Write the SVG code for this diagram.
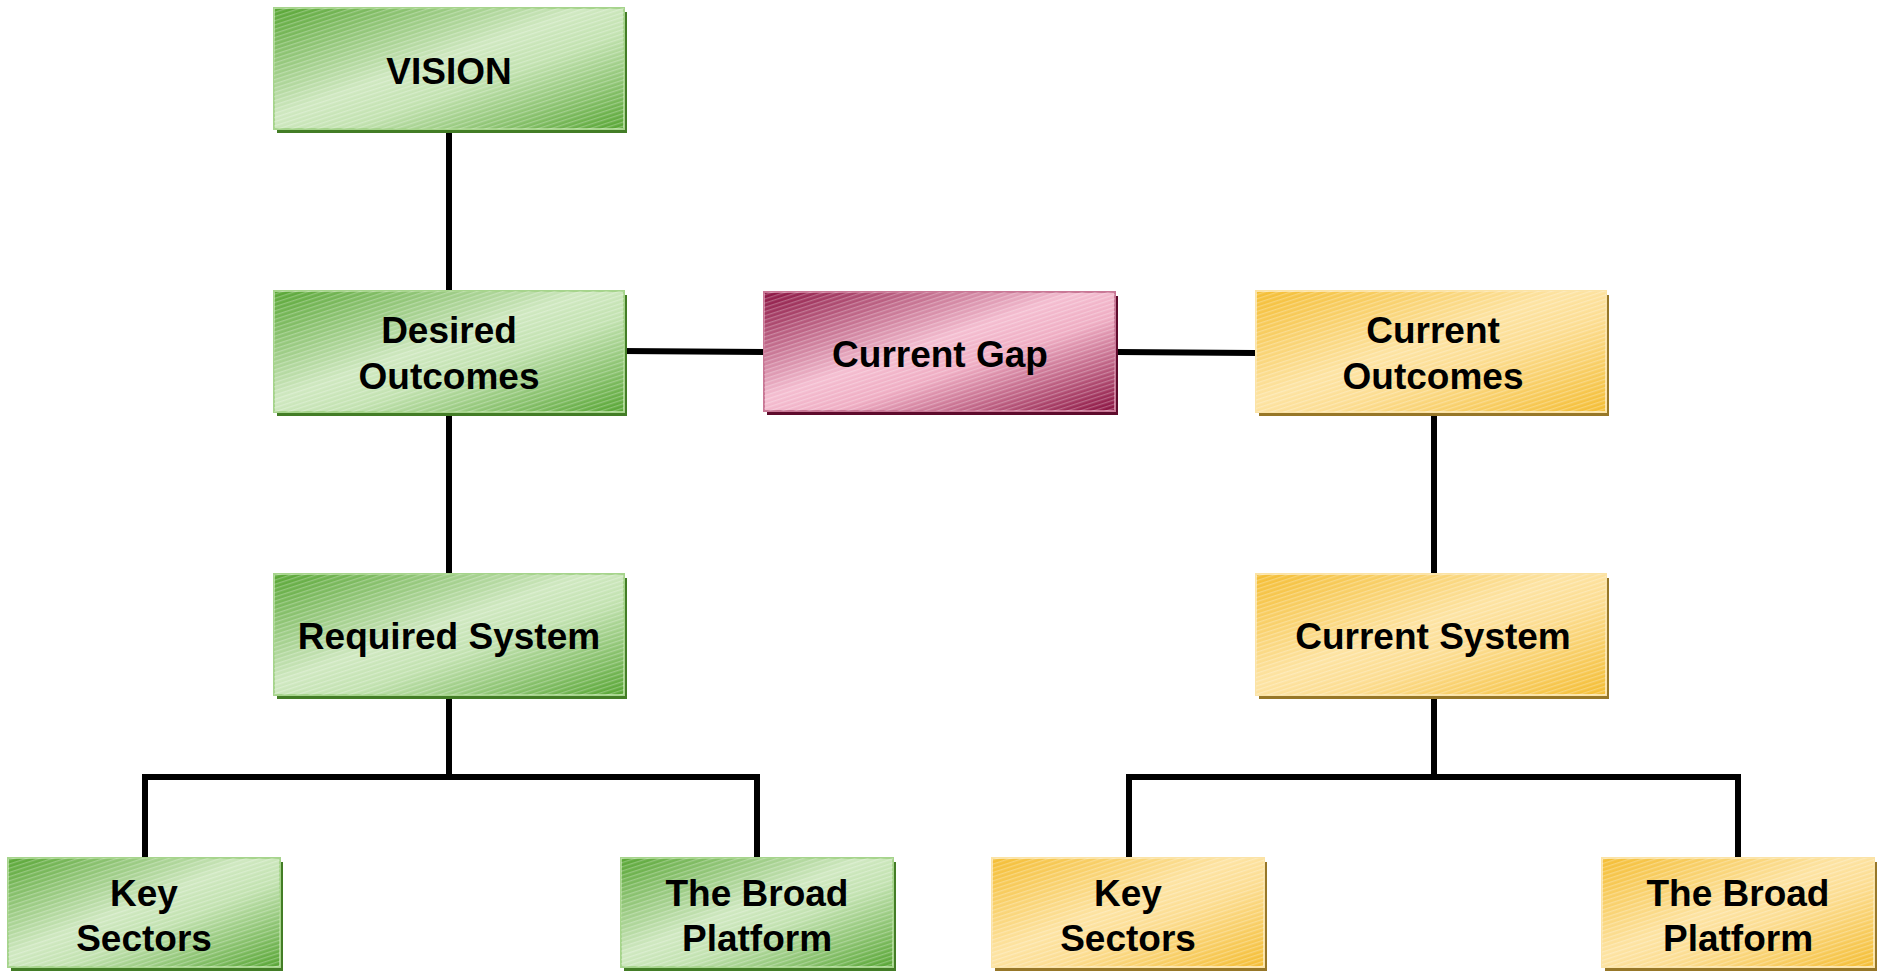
<svg xmlns="http://www.w3.org/2000/svg" width="1883" height="972" viewBox="0 0 1883 972">
  <defs>
    <!-- diagonal fills: dark corners, light centre -->
    <linearGradient id="gGreen" x1="0" y1="0" x2="1" y2="1">
      <stop offset="0" stop-color="#56a532"/>
      <stop offset="0.45" stop-color="#cfe8c0"/>
      <stop offset="0.6" stop-color="#c2e2b0"/>
      <stop offset="1" stop-color="#56a532"/>
    </linearGradient>
    <linearGradient id="gPink" x1="0" y1="0" x2="1" y2="1">
      <stop offset="0" stop-color="#8a1140"/>
      <stop offset="0.45" stop-color="#f4bdd0"/>
      <stop offset="0.6" stop-color="#efadc3"/>
      <stop offset="1" stop-color="#8a1140"/>
    </linearGradient>
    <linearGradient id="gGold" x1="0" y1="0" x2="1" y2="1">
      <stop offset="0" stop-color="#f4bd32"/>
      <stop offset="0.45" stop-color="#fde3a2"/>
      <stop offset="0.6" stop-color="#fcdd92"/>
      <stop offset="1" stop-color="#f4bd32"/>
    </linearGradient>
    <!-- fine hatching laid over every box -->
    <pattern id="hatch" width="8" height="4" patternUnits="userSpaceOnUse" patternTransform="rotate(-18)">
      <rect x="0" y="0" width="8" height="1.3" fill="#ffffff" opacity="0.28"/>
    </pattern>
  </defs>
  <style>
    .box text { font-family: "Liberation Sans", Arial, sans-serif; font-weight: bold; font-size: 37px; fill: #000; text-anchor: middle; }
    .green .shadow { fill: #437d26; }
    .green .face { fill: url(#gGreen); stroke: #a6d48c; stroke-width: 2; }
    .pink .shadow { fill: #5e0b2c; }
    .pink .face { fill: url(#gPink); stroke: #c97896; stroke-width: 2; }
    .gold .shadow { fill: #977728; }
    .gold .face { fill: url(#gGold); stroke: #fbe3a6; stroke-width: 2; }
    .hatch { fill: url(#hatch); }
    .connectors path { fill: none; stroke: #000; stroke-width: 6; stroke-linejoin: miter; stroke-linecap: butt; }
  </style>

  <rect width="1883" height="972" fill="#ffffff"/>

  <!-- connectors -->
  <g class="connectors" id="connectors">
    <path d="M449 130 V291"/>
    <path d="M449 414 V574"/>
    <path d="M449 697 V777"/>
    <path d="M145 859 V777 H757 V859"/>
    <path d="M622 351 L764 352"/>
    <path d="M1118 352 L1255 353"/>
    <path d="M1434 414 V574"/>
    <path d="M1434 697 V777"/>
    <path d="M1129 859 V777 H1738 V859"/>
  </g>

  <!-- left column -->
  <g id="vision" class="box green">
    <rect class="shadow" x="277" y="12" width="350" height="121"/>
    <rect class="face" x="274" y="8" width="350" height="121"/>
    <rect class="hatch" x="274" y="8" width="350" height="121"/>
    <text x="449" y="84">VISION</text>
  </g>
  <g id="desired-outcomes" class="box green">
    <rect class="shadow" x="277" y="295" width="350" height="121"/>
    <rect class="face" x="274" y="291" width="350" height="121"/>
    <rect class="hatch" x="274" y="291" width="350" height="121"/>
    <text x="449" y="343">Desired</text>
    <text x="449" y="389">Outcomes</text>
  </g>
  <g id="required-system" class="box green">
    <rect class="shadow" x="277" y="578" width="350" height="121"/>
    <rect class="face" x="274" y="574" width="350" height="121"/>
    <rect class="hatch" x="274" y="574" width="350" height="121"/>
    <text x="449" y="649">Required System</text>
  </g>
  <g id="key-sectors-required" class="box green">
    <rect class="shadow" x="11" y="862" width="272" height="109"/>
    <rect class="face" x="8" y="858" width="272" height="109"/>
    <rect class="hatch" x="8" y="858" width="272" height="109"/>
    <text x="144" y="906">Key</text>
    <text x="144" y="951">Sectors</text>
  </g>
  <g id="broad-platform-required" class="box green">
    <rect class="shadow" x="624" y="862" width="272" height="109"/>
    <rect class="face" x="621" y="858" width="272" height="109"/>
    <rect class="hatch" x="621" y="858" width="272" height="109"/>
    <text x="757" y="906">The Broad</text>
    <text x="757" y="951">Platform</text>
  </g>

  <!-- centre -->
  <g id="current-gap" class="box pink">
    <rect class="shadow" x="767" y="296" width="351" height="119"/>
    <rect class="face" x="764" y="292" width="351" height="119"/>
    <rect class="hatch" x="764" y="292" width="351" height="119"/>
    <text x="940" y="367">Current Gap</text>
  </g>

  <!-- right column -->
  <g id="current-outcomes" class="box gold">
    <rect class="shadow" x="1259" y="295" width="350" height="121"/>
    <rect class="face" x="1256" y="291" width="350" height="121"/>
    <rect class="hatch" x="1256" y="291" width="350" height="121"/>
    <text x="1433" y="343">Current</text>
    <text x="1433" y="389">Outcomes</text>
  </g>
  <g id="current-system" class="box gold">
    <rect class="shadow" x="1259" y="578" width="350" height="121"/>
    <rect class="face" x="1256" y="574" width="350" height="121"/>
    <rect class="hatch" x="1256" y="574" width="350" height="121"/>
    <text x="1433" y="649">Current System</text>
  </g>
  <g id="key-sectors-current" class="box gold">
    <rect class="shadow" x="995" y="862" width="272" height="109"/>
    <rect class="face" x="992" y="858" width="272" height="109"/>
    <rect class="hatch" x="992" y="858" width="272" height="109"/>
    <text x="1128" y="906">Key</text>
    <text x="1128" y="951">Sectors</text>
  </g>
  <g id="broad-platform-current" class="box gold">
    <rect class="shadow" x="1605" y="862" width="272" height="109"/>
    <rect class="face" x="1602" y="858" width="272" height="109"/>
    <rect class="hatch" x="1602" y="858" width="272" height="109"/>
    <text x="1738" y="906">The Broad</text>
    <text x="1738" y="951">Platform</text>
  </g>
</svg>
